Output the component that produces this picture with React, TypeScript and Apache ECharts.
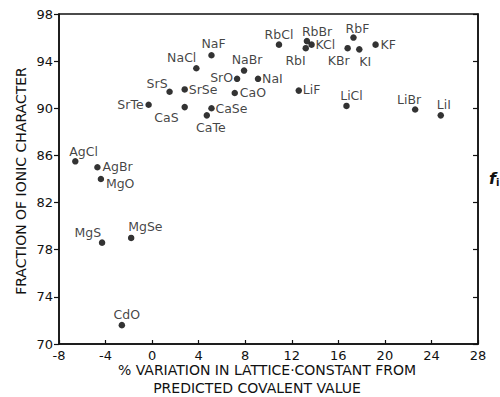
import React, { useEffect, useRef } from "react";
import * as echarts from "echarts";

const names = ["NaF","NaCl","NaBr","SrO","SrS","SrSe","CaO","SrTe","CaS","CaSe","CaTe","AgCl","AgBr","MgO","MgS","MgSe","CdO","RbCl","RbBr","KCl","RbI","RbF","KBr","KI","KF","NaI","LiF","LiCl","LiBr","LiI"];
const xVals = [5.1,3.8,7.9,7.3,1.5,2.8,7.1,-0.3,2.8,5.1,4.7,-6.6,-4.7,-4.4,-4.3,-1.8,-2.6,10.9,13.3,13.7,13.2,17.3,16.8,17.8,19.2,9.1,12.6,16.7,22.6,24.8];
const yVals = [94.5,93.4,93.2,92.5,91.4,91.6,91.3,90.3,90.1,90.0,89.4,85.5,85.0,84.0,78.6,79.0,71.6,95.4,95.7,95.4,95.1,96.0,95.1,95.0,95.4,92.5,91.5,90.2,89.9,89.4];
const xTicks = [-8,-4,0,4,8,12,16,20,24,28];
const yTicks = [70,74,78,82,86,90,94,98];

// label placement: [dx, dy, align]
const labelPlace: Record<string, [number, number, string]> = {
  NaF: [2, -12, "center"], NaCl: [0, -11, "right"], NaBr: [3, -11, "center"],
  SrO: [-4, -1, "right"], SrS: [-2, -8, "right"], SrSe: [4, 0, "left"],
  CaO: [5, 0, "left"], SrTe: [-5, 0, "right"], CaS: [-6, 10, "right"],
  CaSe: [4, 0, "left"], CaTe: [4, 12, "center"], AgCl: [-6, -10, "left"],
  AgBr: [5, -1, "left"], MgO: [5, 4, "left"], MgS: [-1, -10, "right"],
  MgSe: [-3, -11, "left"], CdO: [5, -11, "center"], RbCl: [0, -10, "center"],
  RbBr: [-5, -10, "left"], KCl: [4, 0, "left"], RbI: [0, 12, "right"],
  RbF: [4, -9, "center"], KBr: [2, 12, "right"], KI: [6, 12, "center"],
  KF: [5, 0, "left"], NaI: [4, 0, "left"], LiF: [4, -1, "left"],
  LiCl: [5, -10, "center"], LiBr: [-6, -10, "center"], LiI: [3, -11, "center"],
};

const FONT = "DejaVu Sans";

export default function App() {
  const ref = useRef<HTMLDivElement>(null);
  useEffect(() => {
    document.body.style.margin = "0";
    const chart = echarts.init(ref.current!, null, { renderer: "svg" });
    const data = names.map((n, i) => {
      const p = labelPlace[n];
      return {
        name: n,
        value: [xVals[i], yVals[i]],
        label: {
          show: true,
          position: "inside",
          offset: [p[0], p[1]],
          align: p[2],
          verticalAlign: "middle",
          formatter: n,
          color: "#111",
          fontFamily: FONT,
          fontSize: 12.5,
        },
      };
    });
    chart.setOption({
      animation: false,
      backgroundColor: "#fff",
      grid: { left: 59, top: 14, right: 22, bottom: 53, show: true, borderColor: "#111", borderWidth: 1.5 },
      xAxis: {
        type: "value",
        min: xTicks[0],
        max: xTicks[xTicks.length - 1],
        interval: 4,
        axisLine: { show: true, onZero: false, lineStyle: { color: "#111", width: 1.5 } },
        axisTick: { show: true, inside: true, length: 4, lineStyle: { color: "#111", width: 1.2 } },
        axisLabel: { color: "#111", fontFamily: FONT, fontSize: 13, margin: 5 },
        splitLine: { show: false },
      },
      yAxis: [
        {
          type: "value",
          min: yTicks[0],
          max: yTicks[yTicks.length - 1],
          interval: 4,
          axisLine: { show: true, onZero: false, lineStyle: { color: "#111", width: 1.5 } },
          axisTick: { show: true, inside: false, length: 5, lineStyle: { color: "#111", width: 1.2 } },
          axisLabel: { color: "#111", fontFamily: FONT, fontSize: 13, margin: 6 },
          splitLine: { show: false },
        },
        {
          type: "value",
          position: "right",
          min: yTicks[0],
          max: yTicks[yTicks.length - 1],
          interval: 4,
          axisLine: { show: true, onZero: false, lineStyle: { color: "#111", width: 1.5 } },
          axisTick: { show: true, inside: true, length: 5, lineStyle: { color: "#111", width: 1.2 } },
          axisLabel: { show: false },
          splitLine: { show: false },
        },
      ],
      series: [
        {
          type: "scatter",
          symbol: "circle",
          symbolSize: 6.5,
          itemStyle: { color: "#000" },
          data,
        },
      ],
      graphic: [
        {
          type: "text",
          x: 267, y: 370,
          style: { text: "% VARIATION IN LATTICE·CONSTANT FROM", fill: "#111", font: `14px "${FONT}"`, align: "center", verticalAlign: "middle" },
        },
        {
          type: "text",
          x: 257, y: 388,
          style: { text: "PREDICTED COVALENT VALUE", fill: "#111", font: `14px "${FONT}"`, align: "center", verticalAlign: "middle" },
        },
        {
          type: "text",
          x: 21, y: 181,
          rotation: Math.PI / 2,
          style: { text: "FRACTION OF IONIC CHARACTER", fill: "#111", font: `14px "${FONT}"`, align: "center", verticalAlign: "middle" },
        },
        {
          type: "text",
          x: 489, y: 178,
          style: {
            text: "{f|f}{i|i}",
            verticalAlign: "middle",
            rich: {
              f: { fontFamily: FONT, fontSize: 16, fontWeight: "bold", fontStyle: "italic", fill: "#111" },
              i: { fontFamily: FONT, fontSize: 10, fontWeight: "bold", fill: "#111", padding: [8, 0, 0, 0] },
            },
          },
        },
      ],
    });
    return () => chart.dispose();
  }, []);
  return <div ref={ref} style={{ width: 500, height: 397 }} />;
}
